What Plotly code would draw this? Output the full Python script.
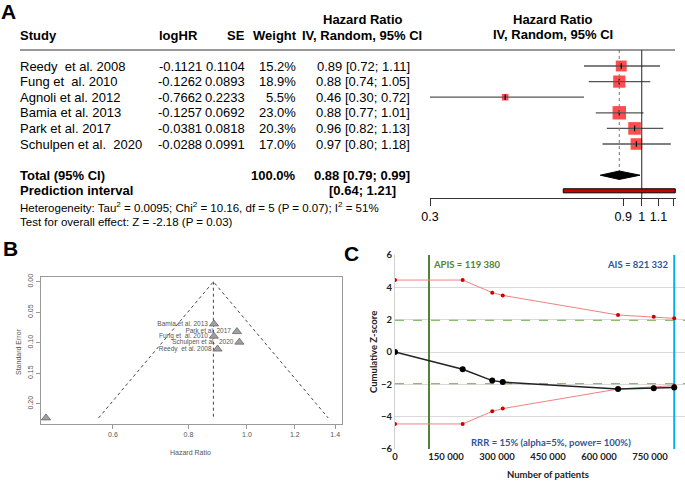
import math
import plotly.graph_objects as go

# ---------------- data ----------------
studies = ["Reedy  et al. 2008", "Fung et  al. 2010", "Agnoli et al. 2012",
           "Bamia et al. 2013", "Park et al. 2017", "Schulpen et al.  2020"]
log_hr = [-0.1121, -0.1262, -0.7662, -0.1257, -0.0381, -0.0288]
se = [0.1104, 0.0893, 0.2233, 0.0692, 0.0818, 0.0991]
weight = [15.2, 18.9, 5.5, 23.0, 20.3, 17.0]
total_weight = 100.0
hr = [0.89, 0.88, 0.46, 0.88, 0.96, 0.97]
ci_low = [0.72, 0.74, 0.30, 0.77, 0.82, 0.80]
ci_high = [1.11, 1.05, 0.72, 1.01, 1.13, 1.18]
pooled = [0.88, 0.79, 0.99]      # estimate, lower, upper
pred_int = [0.64, 1.21]
forest_ticks = [0.3, 0.9, 1, 1.1, 1.2]
forest_ticktext = ["0.3", "0.9", "1", "1.1", " "]

funnel_ticks_x = [0.6, 0.8, 1.0, 1.2, 1.4]
funnel_ticks_y = [0.00, 0.05, 0.10, 0.15, 0.20]

tsa_patients = [0, 199000, 286000, 317000, 656000, 761000, 821332]
tsa_upper = [4.45, 4.45, 3.67, 3.50, 2.29, 2.18, 2.08]
tsa_lower = [-4.45, -4.45, -3.67, -3.50, -2.29, -2.18, -2.08]
tsa_z = [0.0, -1.07, -1.77, -1.86, -2.29, -2.24, -2.20]
conv_bound = 1.96
apis_x = 100000
ais_x = 821332
tsa_xticks = [0, 150000, 300000, 450000, 600000, 750000]
tsa_xticktext = ["0", "150 000", "300 000", "450 000", "600 000", "750 000"]
tsa_yticks = [-6, -4, -2, 0, 2, 4, 6]

W, H = 685, 481
def px(x): return x / W
def py(y): return 1 - y / H

# forest row geometry: row r at pixel y = 66 + 15.6 r
R0, RS = 66.0, 15.6
def row(ypix): return (ypix - R0) / RS

fig = go.Figure()
ARIAL = "Liberation Sans, Arial, sans-serif"
CAL = "Lato, Carlito, sans-serif"

# ---------------- Panel A forest ----------------
rows = list(range(len(studies)))
fig.add_trace(go.Scatter(
    x=hr, y=rows, mode="markers", xaxis="x", yaxis="y",
    marker=dict(symbol="square", color="#ff0000",
                size=[2.8 * math.sqrt(w) for w in weight], line=dict(width=0)),
    showlegend=False, hoverinfo="skip"))
cx, cy = [], []
for r, lo, hi in zip(rows, ci_low, ci_high):
    cx += [lo, hi, None]
    cy += [r, r, None]
fig.add_trace(go.Scatter(x=cx, y=cy, mode="lines", xaxis="x", yaxis="y",
                         line=dict(color="#555555", width=1.3),
                         showlegend=False, hoverinfo="skip"))
fig.add_trace(go.Scatter(
    x=hr, y=rows, mode="markers", xaxis="x", yaxis="y",
    marker=dict(symbol="line-ns", size=4, line=dict(width=1.2, color="#000")),
    showlegend=False, hoverinfo="skip"))
fig.add_trace(go.Scatter(x=[pooled[0], pooled[0]], y=[row(50), 7 - 0.27],
                         mode="lines", xaxis="x", yaxis="y",
                         line=dict(color="#777", width=1, dash="dot"),
                         showlegend=False, hoverinfo="skip"))
fig.add_trace(go.Scatter(x=[1, 1], y=[row(50), row(198)], mode="lines",
                         xaxis="x", yaxis="y", line=dict(color="#222", width=1),
                         showlegend=False, hoverinfo="skip"))
fig.add_trace(go.Scatter(
    x=[pooled[1], pooled[0], pooled[2], pooled[0], pooled[1]],
    y=[7, 7 - 0.27, 7, 7 + 0.27, 7], mode="lines", fill="toself",
    fillcolor="#000", line=dict(color="#000", width=1), xaxis="x", yaxis="y",
    showlegend=False, hoverinfo="skip"))
fig.add_trace(go.Scatter(
    x=[pred_int[0], pred_int[1], pred_int[1], pred_int[0], pred_int[0]],
    y=[7.87, 7.87, 8.13, 8.13, 7.87], mode="lines", fill="toself",
    fillcolor="#cc0000", line=dict(color="#000", width=1), xaxis="x", yaxis="y",
    showlegend=False, hoverinfo="skip"))

ann = []
def A(x, y, text, size=13, bold=False, anchor="left", color="#000",
      yref="y", font=ARIAL, angle=0):
    t = "<b>%s</b>" % text if bold else text
    ann.append(dict(x=x, y=y, xref="paper", yref=yref, text=t,
                    xanchor=anchor, yanchor="middle", showarrow=False,
                    textangle=angle, borderpad=0,
                    font=dict(size=size, color=color, family=font)))

A(px(19), row(35), "Study", bold=True)
A(px(199), row(35), "logHR", bold=True, anchor="right")
A(px(246), row(35), "SE", bold=True, anchor="right")
A(px(298), row(35), "Weight", bold=True, anchor="right")
A(px(363), row(19), "Hazard Ratio", bold=True, anchor="center")
A(px(362), row(35), "IV, Random, 95% CI", bold=True, anchor="center")
A(px(553), row(19), "Hazard Ratio", bold=True, anchor="center")
A(px(553), row(34), "IV, Random, 95% CI", bold=True, anchor="center")

for r in rows:
    A(px(19), r, studies[r])
    A(px(203), r, "%.4f" % log_hr[r], anchor="right")
    A(px(246), r, "%.4f" % se[r], anchor="right")
    A(px(297), r, "%.1f%%" % weight[r], anchor="right")
    A(px(411), r, "%.2f [%.2f; %.2f]" % (hr[r], ci_low[r], ci_high[r]), anchor="right")

A(px(19), 7, "Total (95% CI)", bold=True)
A(px(297), 7, "%.1f%%" % total_weight, bold=True, anchor="right")
A(px(411), 7, "%.2f [%.2f; %.2f]" % tuple(pooled), bold=True, anchor="right")
A(px(19), 8, "Prediction interval", bold=True)
A(px(397), 8, "[%.2f; %.2f]" % tuple(pred_int), bold=True, anchor="right")
A(px(19), row(207), "Heterogeneity: Tau<sup>2</sup> = 0.0095; Chi<sup>2</sup> = 10.16, df = 5 (P = 0.07); I<sup>2</sup> = 51%", size=11.5)
A(px(19), row(222), "Test for overall effect: Z = -2.18 (P = 0.03)", size=11.5)

A(px(0), py(11), "A", size=21, bold=True, yref="paper")
A(px(2), py(248), "B", size=21, bold=True, yref="paper")
A(px(343), py(253), "C", size=21, bold=True, yref="paper")

shapes = [dict(type="line", xref="paper", yref="y", x0=px(20), x1=px(675),
               y0=row(50), y1=row(50), line=dict(color="#333", width=1))]

# ---------------- Panel B funnel ----------------
se_max = max(se)
lo_f = pooled[0] * math.exp(-1.96 * se_max)
hi_f = pooled[0] * math.exp(1.96 * se_max)
fig.add_trace(go.Scatter(x=[lo_f, pooled[0], hi_f], y=[se_max, 0, se_max],
                         mode="lines", xaxis="x2", yaxis="y2",
                         line=dict(color="#444", width=1, dash="dot"),
                         showlegend=False, hoverinfo="skip"))
fig.add_trace(go.Scatter(x=[pooled[0], pooled[0]], y=[0, se_max],
                         mode="lines", xaxis="x2", yaxis="y2",
                         line=dict(color="#444", width=1, dash="dot"),
                         showlegend=False, hoverinfo="skip"))
fig.add_trace(go.Scatter(
    x=[math.exp(v) for v in log_hr], y=se, mode="markers+text",
    text=studies,
    textposition="middle left", textfont=dict(size=6.5, color="#555", family=ARIAL),
    marker=dict(symbol="triangle-up", size=8, color="#a0a0a0",
                line=dict(color="#666", width=0.8)),
    xaxis="x2", yaxis="y2", cliponaxis=True, showlegend=False, hoverinfo="skip"))

A(px(18), py(352), "Standard Error", size=7, color="#555", yref="paper",
  anchor="center", angle=-90)
A(px(190), py(452), "Hazard Ratio", size=7, color="#555", yref="paper",
  anchor="center")

# ---------------- Panel C TSA ----------------
xmax = 853000
for b in (conv_bound, -conv_bound):
    fig.add_trace(go.Scatter(x=[0, xmax], y=[b, b], mode="lines",
                             xaxis="x3", yaxis="y3",
                             line=dict(color="#70ad47", width=1, dash="dash"),
                             showlegend=False, hoverinfo="skip"))
fig.add_trace(go.Scatter(x=[apis_x, apis_x], y=[-6, 6], mode="lines",
                         xaxis="x3", yaxis="y3", line=dict(color="#548235", width=2),
                         showlegend=False, hoverinfo="skip"))
fig.add_trace(go.Scatter(x=[ais_x, ais_x], y=[-6, 6], mode="lines",
                         xaxis="x3", yaxis="y3", line=dict(color="#00b0f0", width=2),
                         showlegend=False, hoverinfo="skip"))
for yy in (tsa_upper, tsa_lower):
    fig.add_trace(go.Scatter(x=tsa_patients, y=yy, mode="lines+markers",
                             xaxis="x3", yaxis="y3",
                             line=dict(color="#f08080", width=1),
                             marker=dict(color="#d00000", size=4),
                             showlegend=False, hoverinfo="skip"))
fig.add_trace(go.Scatter(x=tsa_patients, y=tsa_z, mode="lines+markers",
                         xaxis="x3", yaxis="y3",
                         line=dict(color="#222", width=1.5),
                         marker=dict(color="#000", size=6),
                         showlegend=False, hoverinfo="skip"))

A(px(432), py(264), "APIS = 119 380", size=9.5, bold=True, color="#548235",
  yref="paper", font=CAL)
A(px(670), py(264), "AIS = 821 332", size=9.5, bold=True, color="#2f5597",
  yref="paper", font=CAL, anchor="right")
A(px(551), py(442), "RRR = 15% (alpha=5%, power= 100%)", size=9.5, bold=True,
  color="#2f5597", yref="paper", font=CAL, anchor="center")
A(px(373), py(352), "Cumulative Z-score", size=9.5, bold=True, color="#222",
  yref="paper", font=CAL, anchor="center", angle=-90)
A(px(548), py(474), "Number of patients", size=9.5, bold=True, color="#222",
  yref="paper", font=CAL, anchor="center")

fig.update_layout(
    template="none",
    width=W, height=H, margin=dict(l=0, r=0, t=0, b=0, pad=0),
    paper_bgcolor="white", plot_bgcolor="rgba(0,0,0,0)",
    annotations=ann, shapes=shapes, showlegend=False,
    xaxis=dict(type="log", range=[math.log10(0.3), math.log10(1.215)],
               domain=[px(430), px(676)], anchor="free", position=py(198),
               showline=True, linecolor="#333", linewidth=1, ticks="outside",
               ticklen=7, tickcolor="#333", tickvals=forest_ticks,
               ticktext=forest_ticktext, showgrid=False, zeroline=False,
               automargin=False,
               tickfont=dict(size=12.5, family=ARIAL, color="#000")),
    yaxis=dict(range=[row(230), row(0)], domain=[py(230), 1], visible=False,
               showgrid=False, zeroline=False, automargin=False),
    xaxis2=dict(type="log", range=[math.log10(0.456), math.log10(1.437)],
                domain=[px(41), px(342)], anchor="y2", showline=True, mirror=True,
                linecolor="#999", linewidth=1, ticks="outside", ticklen=4,
                tickcolor="#999", tickvals=funnel_ticks_x, automargin=False,
                ticktext=["0.6", "0.8", "1.0", "1.2", "1.4"], showgrid=False,
                zeroline=False, tickfont=dict(size=7, family=ARIAL, color="#555")),
    yaxis2=dict(range=[(424 - 281.7) / 610, (277 - 281.7) / 610],
                domain=[py(424), py(277)], anchor="x2", showline=True, mirror=True,
                linecolor="#999", linewidth=1, ticks="outside", ticklen=4,
                tickcolor="#999", tickvals=funnel_ticks_y, automargin=False,
                ticktext=["0.00", "0.05", "0.10", "0.15", "0.20"], tickangle=-90,
                showgrid=False, zeroline=False,
                tickfont=dict(size=7, family=ARIAL, color="#555")),
    xaxis3=dict(range=[0, xmax], domain=[px(395), 1], anchor="y3",
                showline=False, showgrid=False, zeroline=False, automargin=False,
                tickvals=tsa_xticks, ticktext=tsa_xticktext, ticks="",
                tickfont=dict(size=9.5, family=CAL, color="#222", weight="bold")),
    yaxis3=dict(range=[-6, 6], domain=[py(449), py(255)], anchor="x3",
                showline=True, linecolor="#d0d0d0", linewidth=1, automargin=False,
                showgrid=True, gridcolor="#d9d9d9", gridwidth=1, zeroline=False,
                tickvals=tsa_yticks, ticks="",
                tickfont=dict(size=9.5, family=CAL, color="#222", weight="bold")),
)

fig.write_html("out.html", config={"displayModeBar": False})
# remove the browser's default body margin so the figure sits at the page origin
with open("out.html", "r", encoding="utf-8") as f:
    html = f.read()
html = html.replace("<head>", "<head><style>html,body{margin:0;padding:0;overflow:hidden;}</style>", 1)
with open("out.html", "w", encoding="utf-8") as f:
    f.write(html)
